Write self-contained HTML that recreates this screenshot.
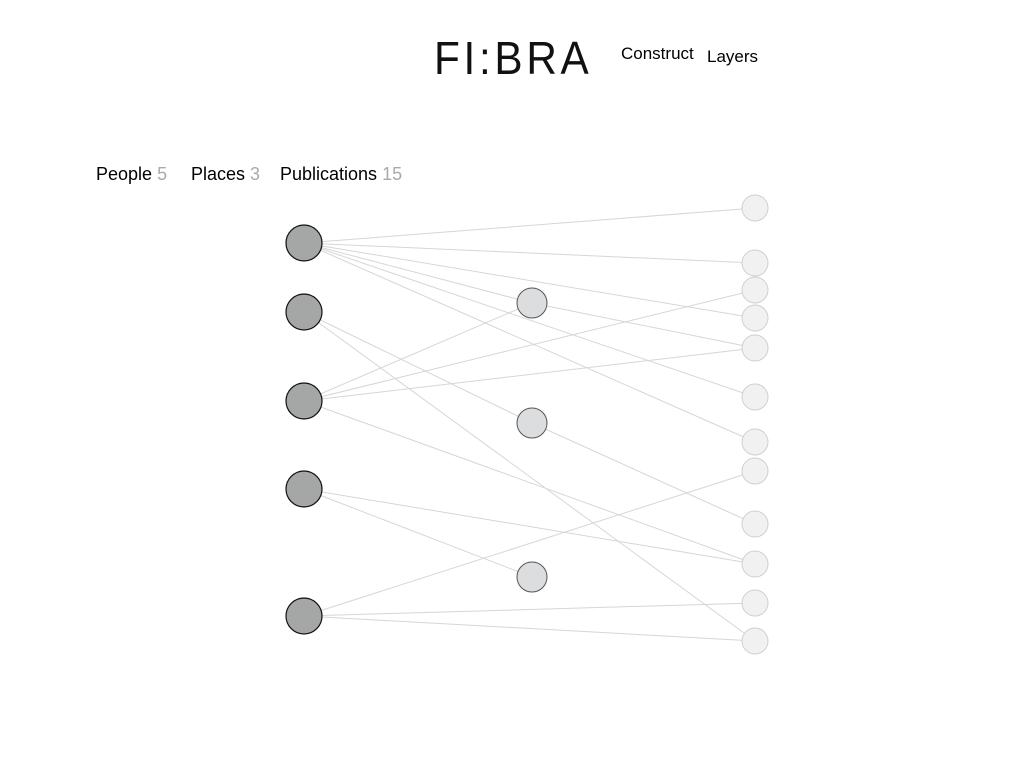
<!DOCTYPE html>
<html><head><style>
body{margin:0;width:1024px;height:768px;background:#fff;font-family:"Liberation Sans",sans-serif;position:relative;overflow:hidden}
.t{position:absolute;white-space:nowrap}
.g{color:#aaa}
</style></head><body>
<div class="t" style="left:434px;top:31px;font-size:46px;letter-spacing:4px;color:#111;transform:scaleX(0.92);transform-origin:left top">FI:BRA</div>
<div class="t" style="left:621px;top:44px;font-size:17px">Construct</div>
<div class="t" style="left:707px;top:47px;font-size:17px">Layers</div>
<div class="t" style="left:96px;top:164px;font-size:18px">People <span class="g">5</span></div>
<div class="t" style="left:191px;top:164px;font-size:18px">Places <span class="g">3</span></div>
<div class="t" style="left:280px;top:164px;font-size:18px">Publications <span class="g">15</span></div>
<svg width="1024" height="768" style="position:absolute;left:0;top:0">
<g stroke="#d6d6d6" stroke-width="1">
<line x1="304" y1="243" x2="755" y2="208"/><line x1="304" y1="243" x2="755" y2="263"/><line x1="304" y1="243" x2="755" y2="318"/><line x1="304" y1="243" x2="532" y2="303"/><line x1="532" y1="303" x2="755" y2="348"/><line x1="304" y1="243" x2="755" y2="397"/><line x1="304" y1="243" x2="755" y2="442"/>
<line x1="304" y1="312" x2="532" y2="423"/><line x1="304" y1="312" x2="755" y2="641"/><line x1="532" y1="423" x2="755" y2="524"/>
<line x1="304" y1="401" x2="532" y2="303"/><line x1="304" y1="401" x2="755" y2="290"/><line x1="304" y1="401" x2="755" y2="348"/><line x1="304" y1="401" x2="755" y2="564"/>
<line x1="304" y1="489" x2="755" y2="564"/><line x1="304" y1="489" x2="532" y2="577"/>
<line x1="304" y1="616" x2="755" y2="471"/><line x1="304" y1="616" x2="755" y2="603"/><line x1="304" y1="616" x2="755" y2="641"/>
</g>
<g fill="#a5a7a6" stroke="#111" stroke-width="1.2">
<circle cx="304" cy="243" r="18"/><circle cx="304" cy="312" r="18"/><circle cx="304" cy="401" r="18"/><circle cx="304" cy="489" r="18"/><circle cx="304" cy="616" r="18"/>
</g>
<g fill="#dcddde" stroke="#555" stroke-width="1">
<circle cx="532" cy="303" r="15"/><circle cx="532" cy="423" r="15"/><circle cx="532" cy="577" r="15"/>
</g>
<g fill="#f1f1f1" stroke="#cfcfcf" stroke-width="1">
<circle cx="755" cy="208" r="13"/><circle cx="755" cy="263" r="13"/><circle cx="755" cy="290" r="13"/><circle cx="755" cy="318" r="13"/><circle cx="755" cy="348" r="13"/><circle cx="755" cy="397" r="13"/><circle cx="755" cy="442" r="13"/><circle cx="755" cy="471" r="13"/><circle cx="755" cy="524" r="13"/><circle cx="755" cy="564" r="13"/><circle cx="755" cy="603" r="13"/><circle cx="755" cy="641" r="13"/>
</g>
</svg>
</body></html>
